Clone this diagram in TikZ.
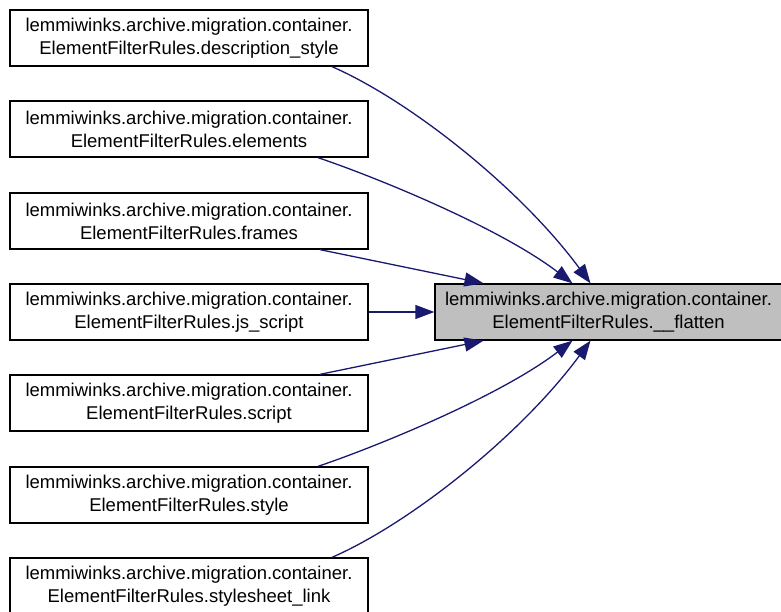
\documentclass[tikz,border=0pt]{standalone}
\usepackage{fontspec}
\setmainfont{Liberation Sans}
\usetikzlibrary{arrows.meta}
\definecolor{edgeblue}{HTML}{191970}
\definecolor{boxgray}{HTML}{BFBFBF}
\begin{document}
\begin{tikzpicture}[x=1pt,y=-1pt,
    >={Triangle[length=19pt,width=14pt]},
    fn/.style={draw,line width=1.3pt,minimum width=358pt,minimum height=56pt,
      align=center,inner sep=0pt,font=\fontsize{18.5}{23}\selectfont},
    call/.style={->,draw=edgeblue,fill=none,line width=1.3pt,
      every arrow/.style={fill=edgeblue}}]
	  \useasboundingbox (0,0) rectangle (781,612);
	  % callers
	  \node[fn] (d1) at (189,38) {lemmiwinks.archive.migration.container.\\ElementFilterRules.description\_style};
	  \node[fn] (d2) at (189,129) {lemmiwinks.archive.migration.container.\\ElementFilterRules.elements};
	  \node[fn] (d3) at (189,221) {lemmiwinks.archive.migration.container.\\ElementFilterRules.frames};
	  \node[fn] (d4) at (189,312) {lemmiwinks.archive.migration.container.\\ElementFilterRules.js\_script};
	  \node[fn] (d5) at (189,403) {lemmiwinks.archive.migration.container.\\ElementFilterRules.script};
	  \node[fn] (d6) at (189,495) {lemmiwinks.archive.migration.container.\\ElementFilterRules.style};
	  \node[fn] (d7) at (189,586) {lemmiwinks.archive.migration.container.\\ElementFilterRules.stylesheet\_link};
	  % called function
	  \node[fn,fill=boxgray,minimum width=347pt] (f) at (608.5,312) {lemmiwinks.archive.migration.container.\\ElementFilterRules.\_\_flatten};
	  \draw[call] ([xshift=143pt]d1.south) .. controls +(78,34) and +(-70,-95) .. ([xshift=-18pt]f.north);
	  \draw[call] ([xshift=129pt]d2.south) .. controls +(62,21) and +(-72,-55) .. ([xshift=-36pt]f.north);
	  \draw[call] ([xshift=131pt]d3.south) -- ([xshift=-125pt]f.north);
	  \draw[call] (d4) -- (f);
	  \draw[call] ([xshift=131pt]d5.north) -- ([xshift=-125pt]f.south);
	  \draw[call] ([xshift=129pt]d6.north) .. controls +(62,-21) and +(-72,55) .. ([xshift=-36pt]f.south);
	  \draw[call] ([xshift=143pt]d7.north) .. controls +(78,-34) and +(-70,95) .. ([xshift=-18pt]f.south);
	\end{tikzpicture}
\end{document}
